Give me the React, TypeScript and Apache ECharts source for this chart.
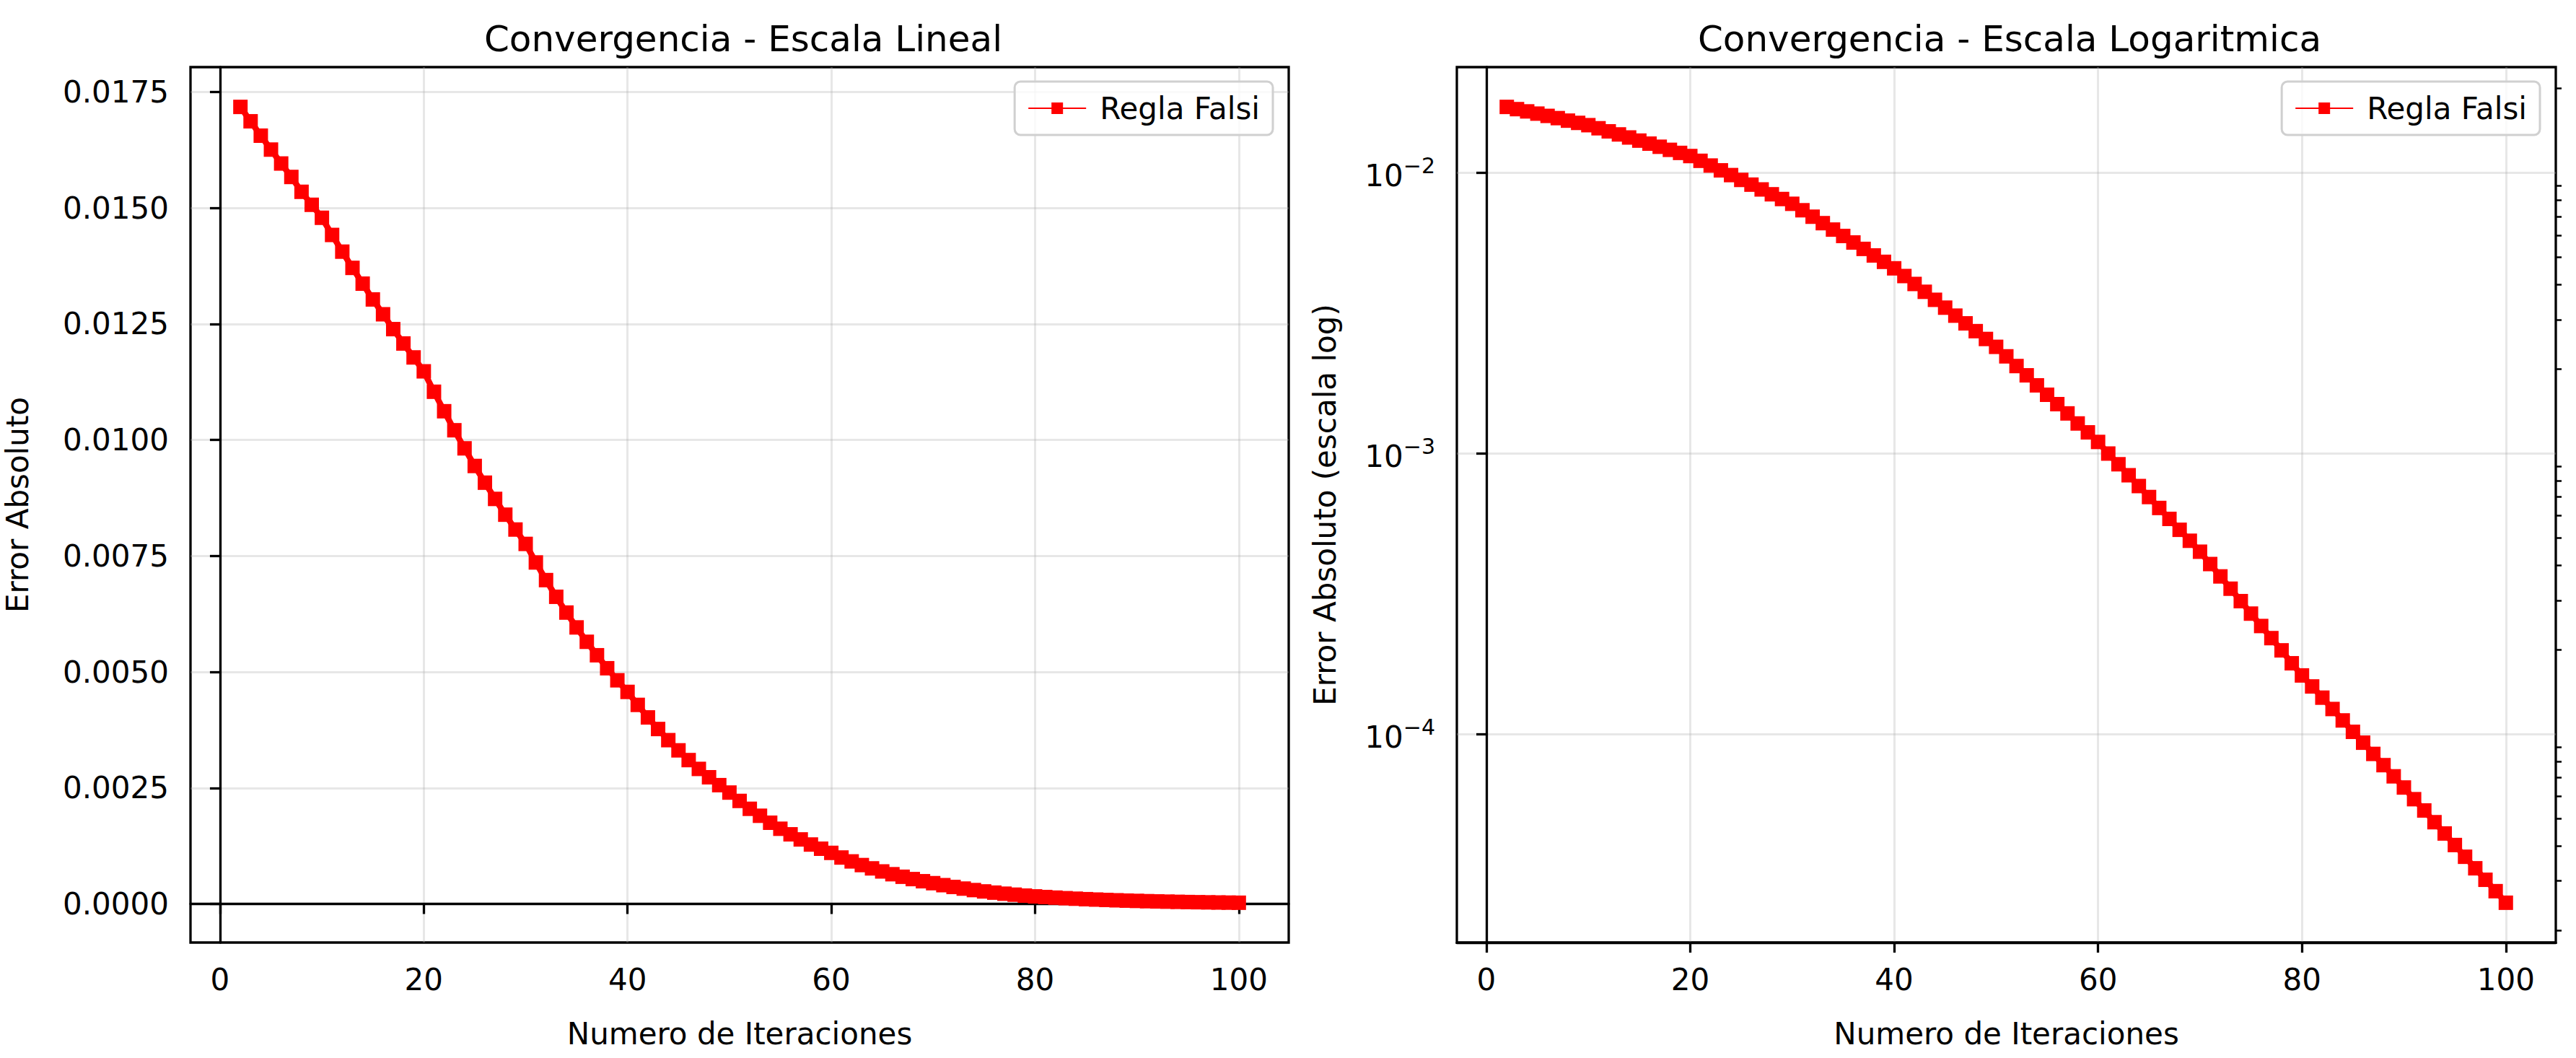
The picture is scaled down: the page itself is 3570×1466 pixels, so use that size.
import React, { useEffect, useRef } from "react";
import * as echarts from "echarts";

// iteraciones 2..100 y error absoluto
const iteraciones: number[] = [
  2, 3, 4, 5, 6, 7, 8, 9, 10, 11, 12, 13, 14, 15, 16, 17, 18, 19, 20, 21, 22, 23, 24, 25, 26, 27, 28, 29, 30,
  31, 32, 33, 34, 35, 36, 37, 38, 39, 40, 41, 42, 43, 44, 45, 46, 47, 48, 49, 50, 51, 52, 53, 54, 55, 56, 57,
  58, 59, 60, 61, 62, 63, 64, 65, 66, 67, 68, 69, 70, 71, 72, 73, 74, 75, 76, 77, 78, 79, 80, 81, 82, 83, 84,
  85, 86, 87, 88, 89, 90, 91, 92, 93, 94, 95, 96, 97, 98, 99, 100,
];

const errores: number[] = [
  0.01718, 0.01687, 0.01656, 0.01626, 0.01596, 0.01567, 0.01535, 0.01507, 0.01479, 0.01442, 0.01406,
  0.01371, 0.01337, 0.01303, 0.01271, 0.01239, 0.01208, 0.01178, 0.01148, 0.01104, 0.01062, 0.01021,
  0.00982, 0.00944, 0.00908, 0.00873, 0.00839, 0.00807, 0.00776, 0.00736, 0.00698, 0.00662, 0.00628,
  0.00596, 0.00565, 0.00536, 0.00508, 0.00482, 0.00457, 0.00429, 0.00402, 0.00377, 0.00353, 0.00331,
  0.0031, 0.00291, 0.00273, 0.00256, 0.0024, 0.00222, 0.00205, 0.0019, 0.00175, 0.00162, 0.0015, 0.00139,
  0.00128, 0.00119, 0.0011, 0.001, 0.000916, 0.000837, 0.000766, 0.0007, 0.00064, 0.000585, 0.000535,
  0.000489, 0.000447, 0.000404, 0.000365, 0.00033, 0.000298, 0.000269, 0.000243, 0.00022, 0.000199,
  0.000179, 0.000162, 0.000148, 0.000135, 0.000123, 0.000112, 0.000102, 0.0000933, 0.0000851, 0.0000776,
  0.0000708, 0.0000646, 0.0000587, 0.0000535, 0.0000486, 0.0000443, 0.0000403, 0.0000366, 0.0000333,
  0.0000303, 0.0000276, 0.0000251,
];

const xTicks: number[] = [0, 20, 40, 60, 80, 100];
const yTicksLineal: number[] = [0, 0.0025, 0.005, 0.0075, 0.01, 0.0125, 0.015, 0.0175];
const decadas: number[] = [-4, -3, -2];
const menores: number[] = [2, 3, 4, 5, 6, 7, 8, 9];

const FONT = "DejaVu Sans";
const ROJO = "#ff0000";

export default function App() {
  const ref = useRef<HTMLDivElement>(null);

  useEffect(() => {
    if (!ref.current) return;
    const chart = echarts.init(ref.current, null, { renderer: "svg" });

    const lineal = iteraciones.map((x, i) => [x, errores[i]]);
    const logData = iteraciones.map((x, i) => [x, Math.log10(errores[i])]);

    // margenes 5% como matplotlib
    const xMin = -2.9;
    const xMax = 104.9;
    const eMin = Math.min(...errores);
    const eMax = Math.max(...errores);
    const yPad = (eMax - eMin) * 0.05;
    const lMin = Math.log10(eMin);
    const lMax = Math.log10(eMax);
    const lPad = (lMax - lMin) * 0.05;

    const minorTicks: number[] = [];
    for (const d of [-5, -4, -3, -2]) {
      for (const m of menores) {
        const v = Math.log10(m) + d;
        if (v > lMin - lPad && v < lMax + lPad) minorTicks.push(v);
      }
    }

    const gridLine = { show: true, lineStyle: { color: "rgba(176,176,176,0.3)", width: 3 } };
    const axisLine = { show: true, lineStyle: { color: "#000", width: 3.3 } };
    const tick = { show: true, length: 14, lineStyle: { color: "#000", width: 3.3 } };
    const label = { color: "#000", fontSize: 42, fontFamily: FONT, margin: 30 };
    const nameStyle = { color: "#000", fontSize: 42, fontFamily: FONT };

    const xAxisBase = (gridIndex: number) => ({
      type: "value" as const,
      gridIndex,
      min: xMin,
      max: xMax,
      name: "Numero de Iteraciones",
      nameLocation: "middle" as const,
      nameGap: 105,
      nameTextStyle: nameStyle,
      axisLine,
      axisTick: { ...tick, customValues: xTicks },
      axisLabel: { ...label, customValues: xTicks },
      splitLine: gridLine,
    });

    const legendBase = (right: number) => ({
      right,
      top: 113,
      orient: "vertical" as const,
      itemWidth: 80,
      itemHeight: 20,
      itemGap: 10,
      padding: [16, 18, 16, 18],
      borderColor: "#d0d0d0",
      borderWidth: 3,
      borderRadius: 8,
      backgroundColor: "rgba(255,255,255,0.8)",
      textStyle: { color: "#000", fontSize: 42, fontFamily: FONT, padding: [0, 0, 0, 14] },
      data: ["Regla Falsi"],
    });

    chart.setOption({
      animation: false,
      backgroundColor: "#fff",
      title: [
        {
          text: "Convergencia - Escala Lineal",
          left: 1025,
          top: 24,
          textAlign: "center",
          textStyle: { color: "#000", fontSize: 50, fontWeight: "normal", fontFamily: FONT },
        },
        {
          text: "Convergencia - Escala Logaritmica",
          left: 2780,
          top: 24,
          textAlign: "center",
          textStyle: { color: "#000", fontSize: 50, fontWeight: "normal", fontFamily: FONT },
        },
      ],
      legend: [legendBase(3570 - 1764), legendBase(3570 - 3520)],
      grid: [
        { left: 264, width: 1522, top: 93, height: 1213, show: true, borderColor: "#000", borderWidth: 3.3 },
        { left: 2019, width: 1523, top: 93, height: 1213, show: true, borderColor: "#000", borderWidth: 3.3 },
      ],
      xAxis: [xAxisBase(0), xAxisBase(1)],
      yAxis: [
        {
          type: "value",
          gridIndex: 0,
          min: eMin - yPad,
          max: eMax + yPad,
          name: "Error Absoluto",
          nameLocation: "middle",
          nameGap: 219,
          nameTextStyle: nameStyle,
          axisLine,
          axisTick: { ...tick, customValues: yTicksLineal },
          axisLabel: { ...label, customValues: yTicksLineal, formatter: (v: number) => v.toFixed(4) },
          splitLine: gridLine,
        },
        {
          type: "value",
          gridIndex: 1,
          min: lMin - lPad,
          max: lMax + lPad,
          name: "Error Absoluto (escala log)",
          nameLocation: "middle",
          nameGap: 162,
          nameTextStyle: nameStyle,
          axisLine,
          axisTick: { ...tick, customValues: decadas },
          axisLabel: {
            ...label,
            customValues: decadas,
            formatter: (v: number) => `{b|10}{s|\u2212${Math.abs(Math.round(v))}}`,
            rich: {
              b: { fontSize: 42, fontFamily: FONT, color: "#000", lineHeight: 50, verticalAlign: "bottom" },
              s: { fontSize: 30, fontFamily: FONT, color: "#000", lineHeight: 50, verticalAlign: "top" },
            },
          },
          splitLine: gridLine,
        },
        {
          type: "value",
          gridIndex: 1,
          min: lMin - lPad,
          max: lMax + lPad,
          axisLine: { show: false },
          axisTick: { show: true, length: 8, lineStyle: { color: "#000", width: 2.5 }, customValues: minorTicks },
          axisLabel: { show: false },
          splitLine: { show: false },
        },
      ],
      series: [
        {
          name: "Regla Falsi",
          type: "line",
          xAxisIndex: 0,
          yAxisIndex: 0,
          data: lineal,
          color: ROJO,
          lineStyle: { color: ROJO, width: 8.3 },
          itemStyle: { color: ROJO },
          symbol: "rect",
          symbolSize: 20,
          showAllSymbol: true,
        },
        {
          name: "Regla Falsi",
          type: "line",
          xAxisIndex: 1,
          yAxisIndex: 1,
          data: logData,
          color: ROJO,
          lineStyle: { color: ROJO, width: 8.3 },
          itemStyle: { color: ROJO },
          symbol: "rect",
          symbolSize: 20,
          showAllSymbol: true,
        },
      ],
    });

    return () => chart.dispose();
  }, []);

  return (
    <div
      ref={ref}
      style={{ position: "absolute", left: 0, top: 0, width: 3570, height: 1466 }}
    />
  );
}
